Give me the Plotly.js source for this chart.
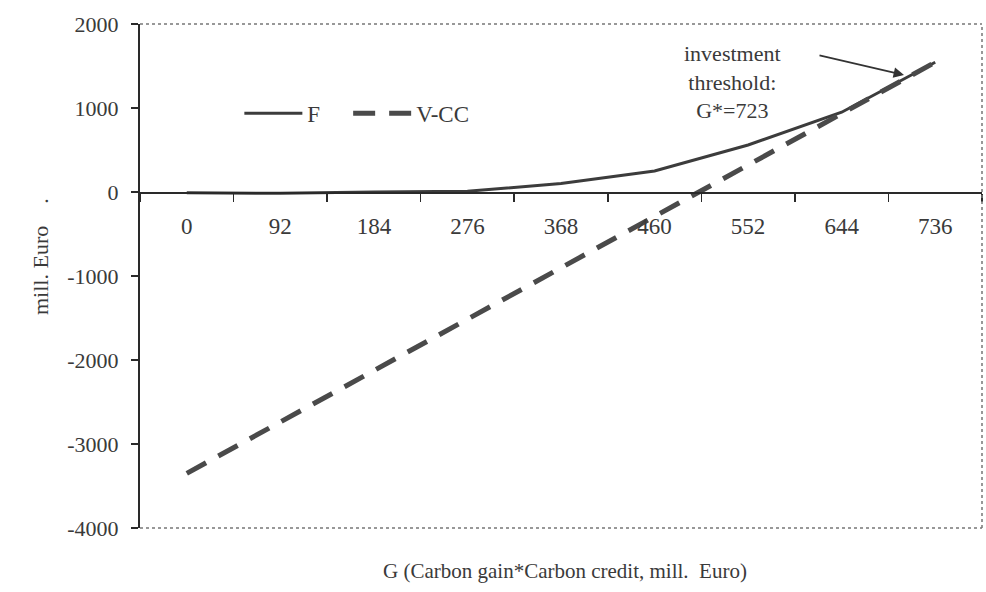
<!DOCTYPE html>
<html>
<head>
<meta charset="utf-8">
<script src="https://cdn.plot.ly/plotly-3.0.1.min.js"></script>
<style>
html,body{margin:0;padding:0;background:#fff;}
#chart{width:986px;height:592px;}
</style>
</head>
<body>
<div id="chart"></div>
<script>
// Data
const categories = ["0", "92", "184", "276", "368", "460", "552", "644", "736"];
const seriesF = [-10, -15, 0, 10, 100, 250, 560, 950, 1545];
const seriesVCC = [-3350, -2740, -2125, -1515, -905, -290, 320, 930, 1545];
const yTickVals = [-4000, -3000, -2000, -1000, 0, 1000, 2000];
const yRange = [-4000, 2000];

const serif = "Liberation Serif";
const ink = "#3a3a3a";

const traces = [
  {
    x: categories, y: seriesF, name: "F&nbsp;&nbsp;&nbsp;&nbsp;", type: "scatter", mode: "lines",
    line: {color: "#3c3c3c", width: 3}
  },
  {
    x: categories, y: seriesVCC, name: "V-CC", type: "scatter", mode: "lines",
    line: {color: "#4a4a4a", width: 5, dash: "22px,14px"}
  }
];

const zeroPos = (0 - yRange[0]) / (yRange[1] - yRange[0]);

const layout = {
  width: 986, height: 592,
  margin: {l: 140, r: 4, t: 24, b: 64},
  paper_bgcolor: "#fff", plot_bgcolor: "#fff",
  font: {family: serif, size: 22, color: ink},
  showlegend: true,
  legend: {
    orientation: "h", x: 0.118, y: 0.823, xanchor: "left", yanchor: "middle",
    font: {family: serif, size: 23, color: ink}, itemwidth: 58,
    bgcolor: "rgba(0,0,0,0)", tracegroupgap: 0
  },
  xaxis: {
    type: "category", categoryorder: "array", categoryarray: categories,
    anchor: "free", position: zeroPos,
    showline: true, linecolor: "#2a2a2a", linewidth: 1.5,
    ticks: "outside", ticklen: 8, tickwidth: 1.5, tickcolor: "#2a2a2a",
    tickson: "boundaries", showgrid: false, zeroline: false,
    ticklabelstandoff: 13,
    tickfont: {family: serif, size: 23, color: ink},
    range: [-0.5, 8.5]
  },
  yaxis: {
    range: yRange, tickvals: yTickVals, ticktext: yTickVals.map(String),
    showline: true, linecolor: "#2a2a2a", linewidth: 2,
    ticks: "outside", ticklen: 7, tickwidth: 1.5, tickcolor: "#2a2a2a",
    showgrid: false, zeroline: false,
    ticklabelstandoff: 8,
    tickfont: {family: serif, size: 22, color: ink}
  },
  shapes: [
    {type: "line", xref: "paper", yref: "paper", x0: 0, x1: 1, y0: 1, y1: 1,
     line: {color: "#777", width: 1.5, dash: "dot"}},
    {type: "line", xref: "paper", yref: "paper", x0: 1, x1: 1, y0: 0, y1: 1,
     line: {color: "#777", width: 1.5, dash: "dot"}},
    {type: "line", xref: "paper", yref: "paper", x0: 0, x1: 1, y0: 0, y1: 0,
     line: {color: "#777", width: 1.5, dash: "dot"}}
  ],
  annotations: [
    {text: "investment<br>threshold:<br>G*=723", xref: "paper", yref: "paper",
     x: (732 - 140) / 842, y: (528 - 82) / 504, xanchor: "center", yanchor: "middle",
     showarrow: false, font: {family: serif, size: 22, color: ink}},
    {text: "", xref: "paper", yref: "paper",
     x: (904 - 140) / 842, y: (528 - 75) / 504,
     ax: (818 - 140) / 842, ay: (528 - 55) / 504, axref: "paper", ayref: "paper",
     showarrow: true, arrowhead: 2, arrowsize: 1.3, arrowwidth: 1.6, arrowcolor: "#333"},
    {text: "mill. Euro&nbsp;&nbsp;&nbsp;&nbsp;.", xref: "paper", yref: "paper",
     x: (40 - 140) / 842, y: (528 - 257) / 504, xanchor: "center", yanchor: "middle",
     textangle: -90, showarrow: false, font: {family: serif, size: 22, color: ink}},
    {text: "G (Carbon gain*Carbon credit, mill.&nbsp; Euro)", xref: "paper", yref: "paper",
     x: (565 - 140) / 842, y: (528 - 571) / 504, xanchor: "center", yanchor: "middle",
     showarrow: false, font: {family: serif, size: 21, color: ink}}
  ]
};

Plotly.newPlot("chart", traces, layout, {displayModeBar: false, staticPlot: true});
</script>
</body>
</html>
